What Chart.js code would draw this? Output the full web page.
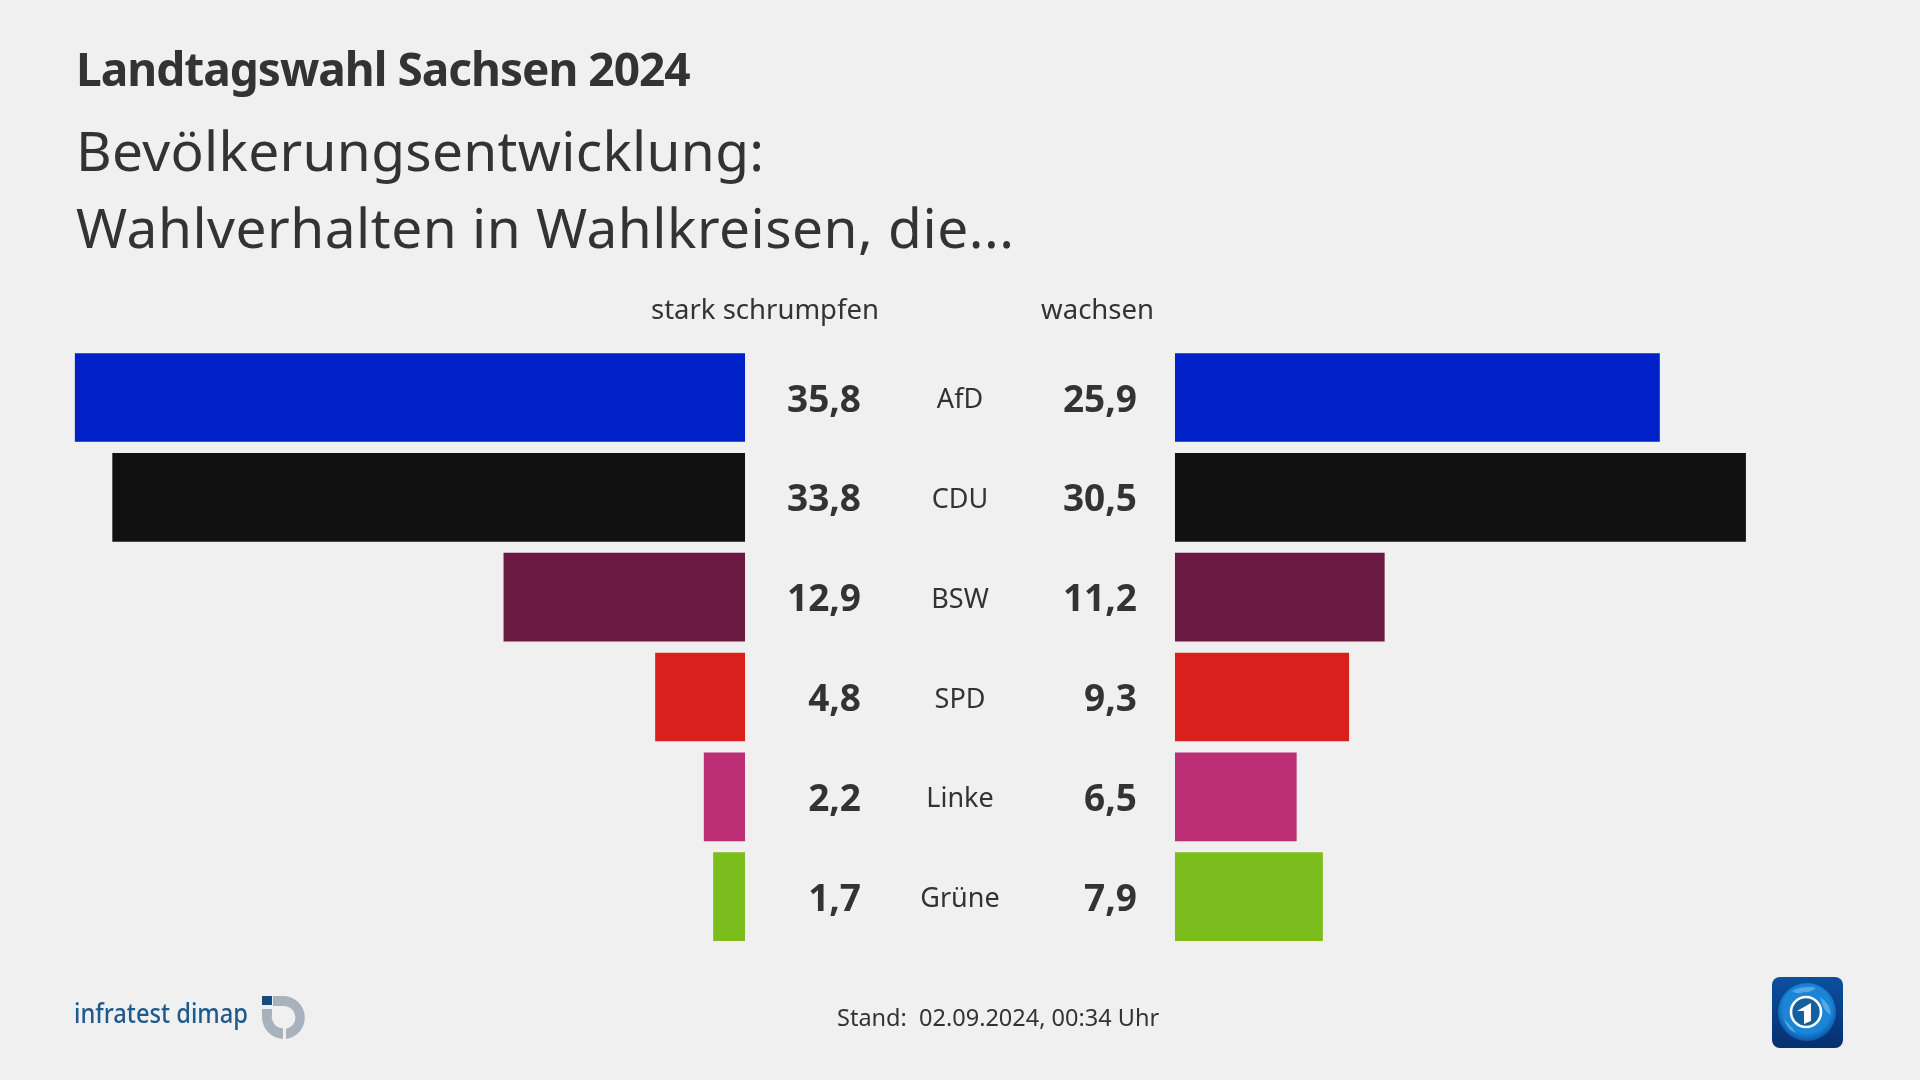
<!DOCTYPE html>
<html lang="de">
<head>
<meta charset="utf-8">
<title>Landtagswahl Sachsen 2024</title>
<script src="https://cdn.jsdelivr.net/npm/chart.js@4"></script>
<style>
  html, body { margin: 0; background: #f0f0f0; }
  #wrap { position: relative; width: 1920px; height: 1080px; overflow: hidden; }
  #myChart { position: absolute; left: 0; top: 0; }
  svg { position: absolute; }
</style>
</head>
<body>
<div id="wrap">
  <canvas id="myChart" width="1920" height="1080"></canvas>

  <!-- logo infratest dimap -->
  <svg style="left:70px;top:990px" width="180" height="60" viewBox="0 0 180 60">
    <text x="4" y="33" font-family="Noto Sans" font-size="27" font-weight="500" fill="#1f5a8c" textLength="174" lengthAdjust="spacingAndGlyphs">infratest dimap</text>
  </svg>
  <svg style="left:255px;top:990px" width="60" height="60" viewBox="0 0 60 60">
    <rect x="7" y="6" width="10" height="9" fill="#174a80"/>
    <path d="M18 6 L29 6 A21.6 21.6 0 0 1 31 49 V39 A11.6 11.6 0 0 0 29 16 L18 16 Z" fill="#a8b2bc"/>
    <path d="M7 19 H17 V24 A12 12 0 0 0 28 38.5 V49 A22 22 0 0 1 7 27 Z" fill="#a8b2bc"/>
  </svg>

  <!-- logo tagesschau -->
  <svg style="left:1770px;top:975px" width="76" height="76" viewBox="0 0 76 76">
    <defs>
      <radialGradient id="globe" cx="50%" cy="45%" r="55%">
        <stop offset="0" stop-color="#1d7fd0"/>
        <stop offset="0.75" stop-color="#1a86d8"/>
        <stop offset="1" stop-color="#0b58aa"/>
      </radialGradient>
      <linearGradient id="back" x1="0" y1="0" x2="0" y2="1">
        <stop offset="0" stop-color="#0c4fa0"/>
        <stop offset="1" stop-color="#06306f"/>
      </linearGradient>
    </defs>
    <rect x="2" y="2" width="71" height="71" rx="8" fill="url(#back)"/>
    <circle cx="37" cy="37" r="29" fill="url(#globe)"/>
    <path d="M22 16 q12 -6 24 -3 q-6 5 -12 4 q-6 3 -12 -1z M50 22 q10 6 11 18 q-6 -3 -8 -9z M14 44 q6 6 12 14 q-8 -2 -12 -14z" fill="#6fb6e8" opacity="0.7"/>
    <circle cx="36" cy="37" r="15" fill="#14609f" stroke="#ffffff" stroke-width="2.6"/>
    <path d="M27 36 l14 -8 v18 l-7 3 v-13z" fill="#ffffff"/>
  </svg>
</div>

<script>
const categories = ["AfD", "CDU", "BSW", "SPD", "Linke", "Grüne"]
const schrumpfen = [35.8, 33.8, 12.9, 4.8, 2.2, 1.7]
const wachsen = [25.9, 30.5, 11.2, 9.3, 6.5, 7.9]
const barColors = ["#0021c8", "#111111", "#6a1a40", "#d9201c", "#bc2f76", "#7abd1c"]
const columnHeads = ["stark schrumpfen", "wachsen"]
const headline = "Landtagswahl Sachsen 2024"
const subline = ["Bevölkerungsentwicklung:", "Wahlverhalten in Wahlkreisen, die..."]
const stand = "Stand:  02.09.2024, 00:34 Uhr"

const textColor = "#333333"
const fontName = "'Noto Sans'"

function fmt(v) {
  return v.toFixed(1).replace(".", ",")
}

function text(ctx, str, x, y, font, align, spacing) {
  ctx.font = font
  ctx.letterSpacing = (spacing || 0) + "px"
  ctx.textAlign = align || "left"
  ctx.textBaseline = "alphabetic"
  ctx.fillStyle = textColor
  ctx.fillText(str, x, y)
}

//scrive titoli, valori e nomi dei partiti, la x viene presa dalle scale
const labelsPlugin = {
  id: "labelsPlugin",
  afterDatasetsDraw(chart) {
    const ctx = chart.ctx
    const y = chart.scales.y
    const zeroL = chart.scales.xL.getPixelForValue(0)
    const zeroR = chart.scales.xR.getPixelForValue(0)
    const middle = (zeroL + zeroR) / 2
    ctx.save()
    text(ctx, headline, 76, 86, "700 46px " + fontName, "left", -1)
    text(ctx, subline[0], 76, 171, "400 55px " + fontName, "left", 0.3)
    text(ctx, subline[1], 76, 248, "400 55px " + fontName, "left", 0.5)
    text(ctx, columnHeads[0], 879, 319, "400 27.5px " + fontName, "right")
    text(ctx, columnHeads[1], 1154, 319, "400 27.5px " + fontName, "right")
    categories.forEach((c, i) => {
      const py = y.getPixelForValue(i)
      text(ctx, fmt(schrumpfen[i]), zeroL + 116, py + 14, "700 37px " + fontName, "right")
      text(ctx, c, middle, py + 10.5, "400 27px " + fontName, "center")
      text(ctx, fmt(wachsen[i]), zeroR - 38, py + 14, "700 37px " + fontName, "right")
    })
    text(ctx, stand, 837, 1026, "400 23.5px " + fontName)
    ctx.restore()
  }
}

const ctx = document.getElementById("myChart").getContext("2d")
const myChart = new Chart(ctx, {
  type: "bar",
  data: {
    labels: categories,
    datasets: [
      { label: columnHeads[0], data: schrumpfen, xAxisID: "xL", backgroundColor: barColors },
      { label: columnHeads[1], data: wachsen, xAxisID: "xR", backgroundColor: barColors }
    ]
  },
  options: {
    indexAxis: "y",
    responsive: false,
    animation: false,
    grouped: false,
    barPercentage: 0.888,
    categoryPercentage: 1,
    layout: { padding: { left: 0, right: 0, top: 347.6, bottom: 133.4 } },
    plugins: { legend: { display: false }, tooltip: { enabled: false } },
    scales: {
      // due assi: lo zero sinistro cade a x=745, quello destro a x=1175
      xL: { display: false, reverse: true, min: -62.77, max: 39.8 },
      xR: { display: false, min: -62.77, max: 39.8 },
      y: { display: false }
    }
  },
  plugins: [labelsPlugin]
})
</script>
</body>
</html>
